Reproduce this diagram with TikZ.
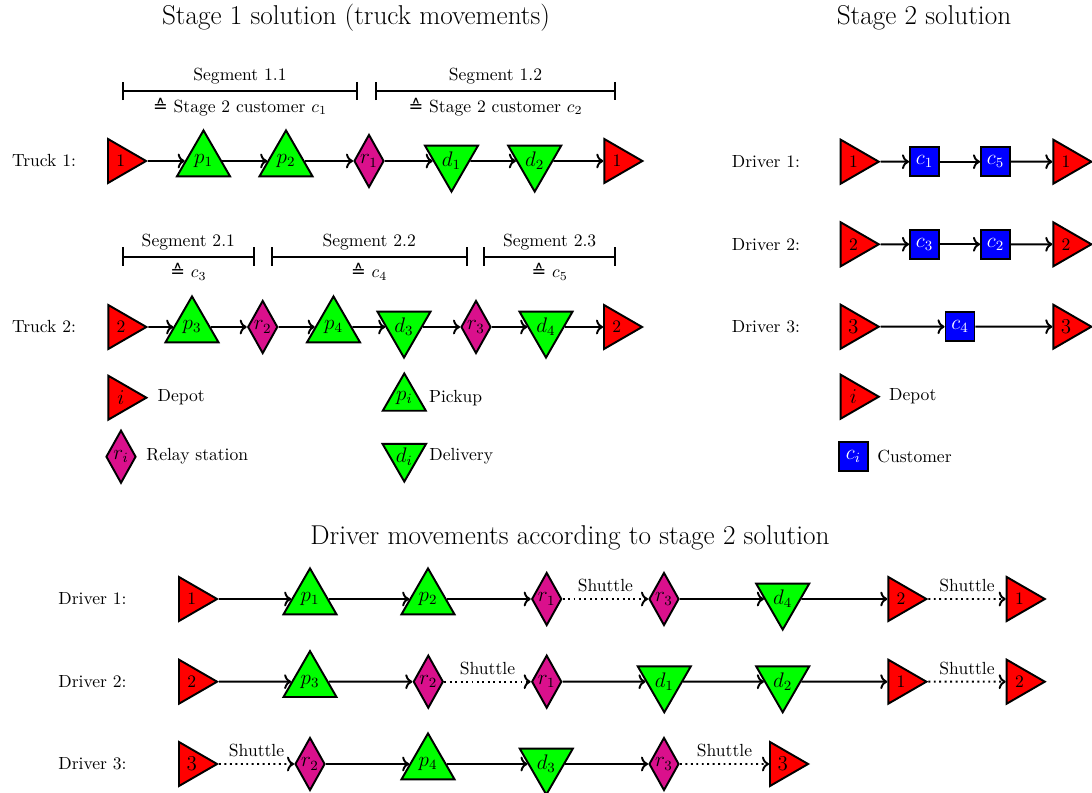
\documentclass[tikz,border=0pt]{standalone}
\usepackage{fontspec}
\usepackage{tikz}
\usetikzlibrary{positioning}
\usetikzlibrary{shapes.geometric,arrows.meta}

\newfontfamily\symbfont{DejaVu Sans}
\newcommand{\corr}{{\symbfont ≙}}
\definecolor{relaycol}{RGB}{218,16,140}

\tikzset{
    stop/.style={draw,line width=1.1pt,inner sep=0pt,regular polygon,regular polygon sides=3,font=\large},
    depot/.style={stop,regular polygon rotate=-90,minimum size=1.016cm,fill=red},
    pickup/.style={stop,minimum size=1.224cm,fill=green},
    delivery/.style={stop,regular polygon rotate=180,minimum size=1.224cm,fill=green},
    relay/.style={draw,line width=1.1pt,inner sep=0pt,diamond,minimum width=0.6cm,minimum height=1.06cm,fill=relaycol,font=\large},
    cust/.style={draw,line width=1.1pt,inner sep=0pt,rectangle,minimum size=0.58cm,fill=blue,text=white,font=\large},
    route/.style={->,line width=1.1pt},
    shuttle/.style={->,dotted,line width=1.1pt},
    segline/.style={{Bar[width=10.5pt]}-{Bar[width=10.5pt]},line width=1.1pt},
    title/.style={font=\fontsize{15.5}{18}\selectfont}
}

\begin{document}
\begin{tikzpicture}[x=0.02cm,y=-0.02cm]
    \useasboundingbox (0,0) rectangle (1092,793);

    % Titles
    \node[title] (ttl1) at (356,18) {Stage 1 solution (truck movements)};
    \node[title] (ttl2) at (924,18) {Stage 2 solution};
    \node[title] (ttl3) at (570,538) {Driver movements according to stage 2 solution};

    % Truck 1
    \node (lt1) at (44,161) {Truck 1:};
    \node[depot] (t1a) at (120.7,161) {\normalsize 1};
    \node[pickup] (t1b) at (203.5,161) {$p_1$};
    \node[pickup] (t1c) at (286,161) {$p_2$};
    \node[relay] (t1d) at (369,161) {$r_1$};
    \node[delivery] (t1e) at (451.5,161) {$d_1$};
    \node[delivery] (t1f) at (534.7,161) {$d_2$};
    \node[depot] (t1g) at (617,161) {\normalsize 1};
    \foreach \u/\v in {a/b,b/c,c/d,d/e,e/f,f/g}
        \draw[route] (t1\u) -- (t1\v);

    % Segments of truck 1
    \coordinate (s11a) at (121.7,91);
    \coordinate (s11b) at (358.3,91);
    \coordinate (s12a) at (375,91);
    \coordinate (s12b) at (616,91);
    \draw[segline] (s11a) -- node[above] {Segment 1.1} node[below] {\corr{} Stage 2 customer $c_1$} (s11b);
    \draw[segline] (s12a) -- node[above] {Segment 1.2} node[below] {\corr{} Stage 2 customer $c_2$} (s12b);

    % Truck 2
    \node (lt2) at (44,327) {Truck 2:};
    \node[depot] (t2a) at (121,327) {\normalsize 2};
    \node[pickup] (t2b) at (192,327) {$p_3$};
    \node[relay] (t2c) at (262.7,327) {$r_2$};
    \node[pickup] (t2d) at (333.5,327) {$p_4$};
    \node[delivery] (t2e) at (404,327) {$d_3$};
    \node[relay] (t2f) at (476,327) {$r_3$};
    \node[delivery] (t2g) at (546,327) {$d_4$};
    \node[depot] (t2h) at (616.7,327) {\normalsize 2};
    \foreach \u/\v in {a/b,b/c,c/d,d/e,e/f,f/g,g/h}
        \draw[route] (t2\u) -- (t2\v);

    % Segments of truck 2
    \coordinate (s21a) at (121.7,256.7);
    \coordinate (s21b) at (255,256.7);
    \coordinate (s22a) at (270.7,256.7);
    \coordinate (s22b) at (467.7,256.7);
    \coordinate (s23a) at (483.3,256.7);
    \coordinate (s23b) at (616,256.7);
    \draw[segline] (s21a) -- node[above] {Segment 2.1} node[below] {\corr{} $c_3$} (s21b);
    \draw[segline] (s22a) -- node[above] {Segment 2.2} node[below] {\corr{} $c_4$} (s22b);
    \draw[segline] (s23a) -- node[above] {Segment 2.3} node[below] {\corr{} $c_5$} (s23b);

    % Legend stage 1
    \node[depot] (lgdep) at (121,397.7) {$i$};
    \node[right=1.8pt of lgdep] (lgdept) {Depot};
    \node[relay] (lgrel) at (121,456.7) {$r_i$};
    \node[right=1.8pt of lgrel] (lgrelt) {Relay station};
    \node[stop,minimum size=0.994cm,fill=green] (lgpick) at (404.3,398.3) {$p_i$};
    \node[right=1.8pt of lgpick] (lgpickt) {Pickup};
    \node[stop,regular polygon rotate=180,minimum size=0.994cm,fill=green] (lgdel) at (404.3,456.4) {$d_i$};
    \node[right=1.8pt of lgdel] (lgdelt) {Delivery};

    % Stage 2 drivers
    \node (ld1) at (766,161.7) {Driver 1:};
    \node[depot] (u1a) at (853.4,161.7) {\normalsize 1};
    \node[cust] (u1b) at (924.5,161.7) {$c_1$};
    \node[cust] (u1c) at (995.5,161.7) {$c_5$};
    \node[depot] (u1d) at (1066,161.7) {\normalsize 1};

    \node (ld2) at (766,244.3) {Driver 2:};
    \node[depot] (u2a) at (853.4,244.3) {\normalsize 2};
    \node[cust] (u2b) at (924.5,244.3) {$c_3$};
    \node[cust] (u2c) at (995.5,244.3) {$c_2$};
    \node[depot] (u2d) at (1066,244.3) {\normalsize 2};

    \foreach \r in {1,2} {
        \draw[route] (u\r a) -- (u\r b);
        \draw[route] (u\r b) -- (u\r c);
        \draw[route] (u\r c) -- (u\r d);
    }

    \node (ld3) at (766,326.7) {Driver 3:};
    \node[depot] (u3a) at (853.4,326.7) {3};
    \node[cust] (u3b) at (960,326.7) {$c_4$};
    \node[depot] (u3c) at (1066,326.7) {3};
    \draw[route] (u3a) -- (u3b);
    \draw[route] (u3b) -- (u3c);

    % Legend stage 2
    \node[depot] (lgdep2) at (853.4,396.7) {$i$};
    \node[right=1.3pt of lgdep2] (lgdep2t) {Depot};
    \node[cust] (lgcus) at (853.4,456.7) {$c_i$};
    \node[right=1.3pt of lgcus] (lgcust) {Customer};

    % Driver movements, driver 1
    \node (lb1) at (92.5,599) {Driver 1:};
    \node[depot] (b1a) at (191.7,599) {\normalsize 1};
    \node[pickup] (b1b) at (310,599) {$p_1$};
    \node[pickup] (b1c) at (428,599) {$p_2$};
    \node[relay] (b1d) at (546.7,599) {$r_1$};
    \node[relay] (b1e) at (664,599) {$r_3$};
    \node[delivery] (b1f) at (782.7,599) {$d_4$};
    \node[depot] (b1g) at (901,599) {\normalsize 2};
    \node[depot] (b1h) at (1019.4,599) {\normalsize 1};
    \foreach \u/\v in {a/b,b/c,c/d,e/f,f/g}
        \draw[route] (b1\u) -- (b1\v);
    \draw[shuttle] (b1d) -- node[above] {Shuttle} (b1e);
    \draw[shuttle] (b1g) -- node[above] {Shuttle} (b1h);

    % driver 2
    \node (lb2) at (92.5,681.7) {Driver 2:};
    \node[depot] (b2a) at (191.7,681.7) {\normalsize 2};
    \node[pickup] (b2b) at (310,681.7) {$p_3$};
    \node[relay] (b2c) at (428.3,681.7) {$r_2$};
    \node[relay] (b2d) at (546.7,681.7) {$r_1$};
    \node[delivery] (b2e) at (664.3,681.7) {$d_1$};
    \node[delivery] (b2f) at (782.7,681.7) {$d_2$};
    \node[depot] (b2g) at (901,681.7) {\normalsize 1};
    \node[depot] (b2h) at (1019.4,681.7) {\normalsize 2};
    \foreach \u/\v in {a/b,b/c,d/e,e/f,f/g}
        \draw[route] (b2\u) -- (b2\v);
    \draw[shuttle] (b2c) -- node[above] {Shuttle} (b2d);
    \draw[shuttle] (b2g) -- node[above] {Shuttle} (b2h);

    % driver 3
    \node (lb3) at (92.5,764) {Driver 3:};
    \node[depot] (b3a) at (191.7,764) {3};
    \node[relay] (b3b) at (310,764) {$r_2$};
    \node[pickup] (b3c) at (428,764) {$p_4$};
    \node[delivery] (b3d) at (546.3,764) {$d_3$};
    \node[relay] (b3e) at (664,764) {$r_3$};
    \node[depot] (b3f) at (782.7,764) {3};
    \foreach \u/\v in {b/c,c/d,d/e}
        \draw[route] (b3\u) -- (b3\v);
    \draw[shuttle] (b3a) -- node[above] {Shuttle} (b3b);
    \draw[shuttle] (b3e) -- node[above] {Shuttle} (b3f);
\end{tikzpicture}
\end{document}
